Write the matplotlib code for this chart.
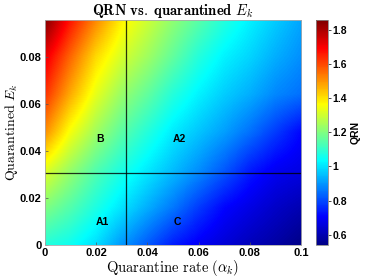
import numpy as np
import matplotlib
matplotlib.use('Agg')
import matplotlib.pyplot as plt
from matplotlib.colors import LinearSegmentedColormap
from matplotlib.ticker import FuncFormatter

# data (rows = E_k, columns = alpha_k)
alpha_k = [0, 0.01, 0.02, 0.03, 0.04, 0.05, 0.06, 0.07, 0.08, 0.09, 0.1]
e_k = [0, 0.016, 0.032, 0.048, 0.064, 0.080, 0.096]
qrn = [
    [1.08, 1.05, 0.99, 0.90, 0.82, 0.74, 0.69, 0.65, 0.61, 0.58, 0.54],
    [1.20, 1.14, 1.07, 1.00, 0.93, 0.86, 0.78, 0.71, 0.67, 0.63, 0.60],
    [1.33, 1.23, 1.14, 1.07, 1.01, 0.95, 0.89, 0.82, 0.74, 0.69, 0.67],
    [1.51, 1.35, 1.24, 1.15, 1.08, 1.01, 0.96, 0.91, 0.85, 0.78, 0.71],
    [1.63, 1.47, 1.33, 1.23, 1.16, 1.08, 1.02, 0.97, 0.93, 0.88, 0.85],
    [1.72, 1.56, 1.41, 1.31, 1.24, 1.16, 1.08, 1.02, 0.98, 0.93, 0.89],
    [1.86, 1.67, 1.52, 1.38, 1.30, 1.22, 1.15, 1.08, 1.02, 0.97, 0.92],
]
alpha_split = 0.0316
ek_split = 0.0308
region_names = ['A1', 'B', 'A2', 'C']
region_x = [0.0225, 0.0215, 0.0525, 0.0515]
region_y = [0.0099, 0.045, 0.045, 0.0099]

# matlab style jet
jet = LinearSegmentedColormap.from_list('mjet', [
    (0, (0, 0, 0.53)), (0.125, (0, 0, 1)), (0.375, (0, 1, 1)),
    (0.625, (1, 1, 0)), (0.875, (1, 0, 0)), (1, (0.5, 0, 0))])

plt.rcParams['mathtext.fontset'] = 'cm'
plt.rcParams['font.family'] = 'Liberation Sans'
plt.rcParams['font.weight'] = 'bold'

fig = plt.figure(figsize=(3.74, 2.80), dpi=100)
ax = fig.add_axes([0.120, 0.125, 0.685, 0.8036])

dx = (alpha_k[1] - alpha_k[0]) / 2
dy = (e_k[1] - e_k[0]) / 2
im = ax.imshow(np.array(qrn), origin='lower', cmap=jet, interpolation='bilinear',
               extent=[alpha_k[0] - dx, alpha_k[-1] + dx, e_k[0] - dy, e_k[-1] + dy],
               aspect='auto', vmin=0.54, vmax=1.857)

ax.axvline(alpha_split, color='k', lw=0.9, alpha=0.8)
ax.axhline(ek_split, color='k', lw=0.9, alpha=0.8)
for n, xx, yy in zip(region_names, region_x, region_y):
    ax.text(xx, yy, n, ha='center', va='center', fontsize=7.5, fontweight='bold')

ax.set_xlim(0, 0.1)
ax.set_ylim(0, 0.0957)
ax.set_xticks([0, 0.02, 0.04, 0.06, 0.08, 0.1])
ax.set_yticks([0, 0.02, 0.04, 0.06, 0.08])
fmt = FuncFormatter(lambda v, p: '%g' % round(v, 4))
ax.xaxis.set_major_formatter(fmt)
ax.yaxis.set_major_formatter(fmt)
ax.tick_params(direction='in', length=2, width=0.5, labelsize=8, color='#555555', pad=2.5)
for s in ax.spines.values():
    s.set_color('#aaaaaa')
    s.set_linewidth(0.6)

ax.set_xlabel(r'$\mathrm{Quarantine\ rate\ }(\alpha_k)$', fontsize=10.5, labelpad=0)
ax.set_ylabel(r'$\mathrm{Quarantined\ }E_k$', fontsize=10, labelpad=0)
ax.set_title(r'$\mathbf{QRN\ vs.\ quarantined}\ E_k$', fontsize=10.5, pad=2)

cax = fig.add_axes([0.845, 0.125, 0.032, 0.8036])
cb = fig.colorbar(im, cax=cax)
cb.set_ticks([0.6, 0.8, 1, 1.2, 1.4, 1.6, 1.8])
cb.ax.yaxis.set_major_formatter(fmt)
cb.ax.tick_params(direction='out', length=2, width=0.5, labelsize=7.5, pad=1.5)
cb.outline.set_edgecolor('#888888')
cb.outline.set_linewidth(0.6)
cb.set_label('QRN', fontsize=7.5, fontweight='bold', labelpad=2)

plt.savefig('out.png', dpi=100)
